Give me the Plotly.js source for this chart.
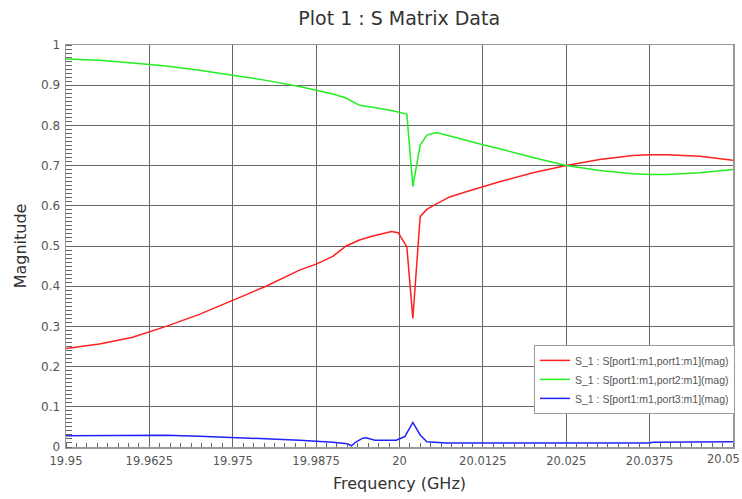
<!DOCTYPE html>
<html><head><meta charset="utf-8">
<script src="https://cdn.plot.ly/plotly-3.0.1.min.js"></script>
<style>html,body{margin:0;padding:0;background:#fff}#c{width:742px;height:499px}</style>
</head><body><div id="c"></div>
<script>
var redF = [19.95,19.955,19.96,19.9625,19.965,19.97,19.975,19.98,19.985,19.9875,19.99,19.992,19.994,19.996,19.9988,19.9998,20.0011,20.0020,20.0031,20.0041,20.005,20.0075,20.01,20.0125,20.015,20.02,20.025,20.03,20.035,20.0375,20.04,20.045,20.05];
var redV = [0.245,0.256,0.273,0.287,0.300,0.330,0.365,0.400,0.440,0.455,0.474,0.500,0.515,0.525,0.536,0.533,0.498,0.320,0.573,0.591,0.600,0.622,0.635,0.648,0.660,0.682,0.700,0.715,0.725,0.727,0.727,0.723,0.713];
var greenF = [19.95,19.955,19.96,19.9625,19.965,19.97,19.975,19.98,19.985,19.9875,19.99,19.992,19.994,19.996,19.9988,20.0011,20.0020,20.0031,20.0041,20.0055,20.008,20.0125,20.015,20.02,20.025,20.03,20.035,20.0375,20.04,20.045,20.05];
var greenV = [0.965,0.962,0.955,0.952,0.948,0.937,0.925,0.912,0.897,0.888,0.878,0.868,0.850,0.845,0.837,0.828,0.648,0.751,0.776,0.782,0.772,0.752,0.742,0.720,0.700,0.688,0.680,0.678,0.678,0.682,0.690];
var blueF = [19.95,19.96,19.965,19.97,19.975,19.98,19.985,19.99,19.9922,19.9928,19.9935,19.9945,19.995,19.9963,19.9995,20.0008,20.0020,20.0031,20.0041,20.007,20.0375,20.038,20.05];
var blueV = [0.028,0.028,0.029,0.027,0.024,0.021,0.017,0.012,0.008,0.003,0.013,0.022,0.023,0.017,0.017,0.026,0.061,0.030,0.013,0.010,0.010,0.012,0.013];
var xTickVals = [19.95,19.9625,19.975,19.9875,20,20.0125,20.025,20.0375];
var xTickText = ["19.95","19.9625","19.975","19.9875","20","20.0125","20.025","20.0375"];
var xLastTick = "20.05";
var yTickVals = [0,0.1,0.2,0.3,0.4,0.5,0.6,0.7,0.8,0.9,1];
var yTickText = ["0","0.1","0.2","0.3","0.4","0.5","0.6","0.7","0.8","0.9","1"];
var names = ["S_1 : S[port1:m1,port1:m1](mag)","S_1 : S[port1:m1,port2:m1](mag)","S_1 : S[port1:m1,port3:m1](mag)"];

var FONT = "'DejaVu Sans',sans-serif";
var traces = [
  {x: redF, y: redV, name: names[0], mode: 'lines', line: {color: '#ff2020', width: 1.5}},
  {x: greenF, y: greenV, name: names[1], mode: 'lines', line: {color: '#22ee22', width: 1.5}},
  {x: blueF, y: blueV, name: names[2], mode: 'lines', line: {color: '#2222ff', width: 1.5}}
];
var layout = {
  width: 742, height: 499,
  margin: {l: 66, r: 9, t: 45, b: 52, autoexpand: false},
  paper_bgcolor: '#fff', plot_bgcolor: '#fff',
  font: {family: FONT, color: '#444'},
  title: {text: 'Plot 1 : S Matrix Data', x: 0.538, xanchor: 'center', y: 0.963, yanchor: 'middle', font: {size: 19, color: '#333', family: FONT}},
  xaxis: {
    range: [19.95, 20.05], tickmode: 'array', tickvals: xTickVals, ticktext: xTickText, automargin: false,
    showgrid: true, gridcolor: '#666', gridwidth: 1, zeroline: false,
    showline: true, linecolor: '#999', linewidth: 1.5, mirror: true,
    ticks: '', tickfont: {size: 11.5, color: '#555'}, ticklabelstandoff: 3,
    minor: {tickmode: 'linear', tick0: 19.95, dtick: 0.0015625, ticks: 'inside', ticklen: 4, tickcolor: '#666', showgrid: false},
    title: {text: 'Frequency (GHz)', font: {size: 16, color: '#333'}, standoff: 10}
  },
  yaxis: {
    range: [0, 1], tickmode: 'array', tickvals: yTickVals, ticktext: yTickText, automargin: false,
    showgrid: true, gridcolor: '#666', gridwidth: 1, zeroline: false,
    showline: true, linecolor: '#999', linewidth: 1.5, mirror: true,
    ticks: '', tickfont: {size: 12, color: '#555'}, ticklabelstandoff: 2,
    minor: {tickmode: 'linear', tick0: 0, dtick: 0.01, ticks: 'inside', ticklen: 6, tickcolor: '#666', showgrid: false},
    title: {text: 'Magnitude', font: {size: 16, color: '#333'}, standoff: 10}
  },
  annotations: [{text: xLastTick, xref: 'paper', yref: 'paper', x: 1.0135, y: 0, xanchor: 'right', yanchor: 'top', yshift: -3,
    showarrow: false, font: {size: 11.5, color: '#555', family: FONT}}],
  showlegend: true,
  legend: {x: 1.003, y: 0.254, xanchor: 'right', yanchor: 'top', bgcolor: '#fff', bordercolor: '#999', borderwidth: 1,
    font: {size: 10.5, color: '#555', family: "'Liberation Sans',sans-serif"}, tracegroupgap: 0, itemwidth: 30}
};
Plotly.newPlot('c', traces, layout, {displayModeBar: false, staticPlot: true});
</script></body></html>
